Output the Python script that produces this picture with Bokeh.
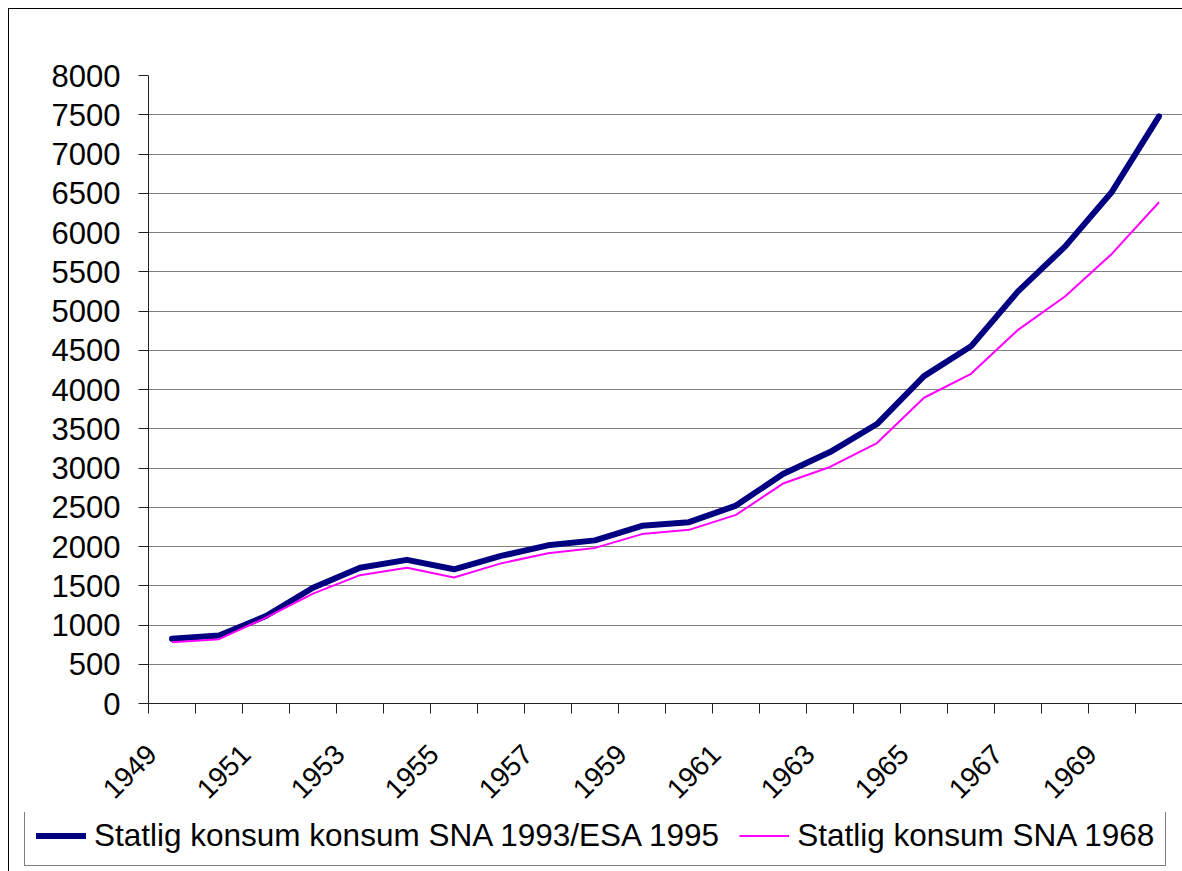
import math
from bokeh.plotting import figure
from bokeh.layouts import column
from bokeh.models import Range1d, FixedTicker, Legend, LegendItem
from bokeh.embed import file_html
from bokeh.resources import INLINE

years = list(range(1949, 1971))
label_years = list(range(1949, 1971, 2))
sna1993 = [825, 865, 1115, 1475, 1730, 1830, 1710, 1880, 2015, 2078, 2263, 2310,
           2521, 2924, 3203, 3560, 4170, 4550, 5250, 5820, 6520, 7480]
sna1968 = [780, 820, 1095, 1400, 1635, 1730, 1605, 1785, 1915, 1982, 2158, 2212,
           2403, 2802, 3013, 3318, 3895, 4200, 4760, 5185, 5730, 6385]
y_ticks = list(range(0, 8001, 500))
series_names = ["Statlig konsum konsum SNA 1993/ESA 1995", "Statlig konsum SNA 1968"]

FONT = "Liberation Sans"
NAVY = "#000080"
MAGENTA = "#FF00FF"
W = 1173

# ---------------- main chart ----------------
p = figure(width=W, height=803, output_backend="svg", toolbar_location=None,
           x_range=Range1d(years[0] - 0.5, years[-1] + 0.5),
           y_range=Range1d(0, 8000))
p.min_border_top = 66
p.min_border_left = 139
p.min_border_right = 0
p.min_border_bottom = 109
p.outline_line_color = None
p.background_fill_color = "white"
p.border_fill_color = "white"

r1 = p.line(years, sna1993, line_color=NAVY, line_width=6,
            line_join="round", line_cap="round")
r2 = p.line(years, sna1968, line_color=MAGENTA, line_width=2,
            line_join="round")

p.yaxis.ticker = FixedTicker(ticks=y_ticks)
p.yaxis.major_tick_out = 10
p.yaxis.major_tick_in = 0
p.yaxis.minor_tick_line_color = None
p.yaxis.axis_line_color = "#222222"
p.yaxis.major_tick_line_color = "#222222"
p.yaxis.major_label_text_font = FONT
p.yaxis.major_label_text_font_size = "31px"
p.yaxis.major_label_text_color = "black"
p.yaxis.major_label_standoff = 18

LABEL_SHIFT = 0.43
p.xaxis.ticker = FixedTicker(ticks=[y - LABEL_SHIFT for y in label_years],
                             minor_ticks=[y - 0.5 for y in years] + [years[-1] + 0.5])
p.xaxis.major_label_overrides = {y - LABEL_SHIFT: str(y) for y in label_years}
p.xaxis.major_tick_out = 0
p.xaxis.major_tick_in = 0
p.xaxis.minor_tick_out = 10
p.xaxis.minor_tick_in = 0
p.xaxis.minor_tick_line_color = "#222222"
p.xaxis.axis_line_color = "#222222"
p.xaxis.major_label_orientation = math.pi / 4
p.xaxis.major_label_text_font = FONT
p.xaxis.major_label_text_font_size = "28px"
p.xaxis.major_label_text_color = "black"
p.xaxis.major_label_standoff = 36

p.xgrid.grid_line_color = None
p.ygrid.ticker = FixedTicker(ticks=y_ticks)
p.ygrid.grid_line_color = "#808080"
p.ygrid.grid_line_width = 1

# ---------------- legend strip ----------------
q = figure(width=W, height=59, output_backend="svg", toolbar_location=None,
           x_range=Range1d(0, 1), y_range=Range1d(0, 1),
           x_axis_type=None, y_axis_type=None)
q.min_border = 0
q.outline_line_color = None
q.xgrid.visible = False
q.ygrid.visible = False
q.border_fill_color = "white"
l1 = q.line(years, sna1993, line_color=NAVY, line_width=6, line_cap="round")
l2 = q.line(years, sna1968, line_color=MAGENTA, line_width=2)

legend = Legend(items=[LegendItem(label=series_names[0], renderers=[l1]),
                       LegendItem(label=series_names[1], renderers=[l2])],
                orientation="horizontal", location=(15, 5))
legend.label_text_font = FONT
legend.label_text_font_size = "31.5px"
legend.label_text_color = "black"
legend.glyph_width = 50
legend.glyph_height = 31
legend.label_height = 31
legend.label_standoff = 8
legend.spacing = 20
legend.padding = 11
legend.margin = 0
legend.border_line_color = "black"
legend.border_line_width = 1
legend.background_fill_alpha = 1
q.add_layout(legend, "center")

layout = column(p, column(q, spacing=0), spacing=0)
layout.styles = {"margin-left": "8px", "margin-top": "8px",
                 "border-left": "1px solid black", "border-top": "1px solid black"}

open("out.html", "w").write(file_html(layout, INLINE))
